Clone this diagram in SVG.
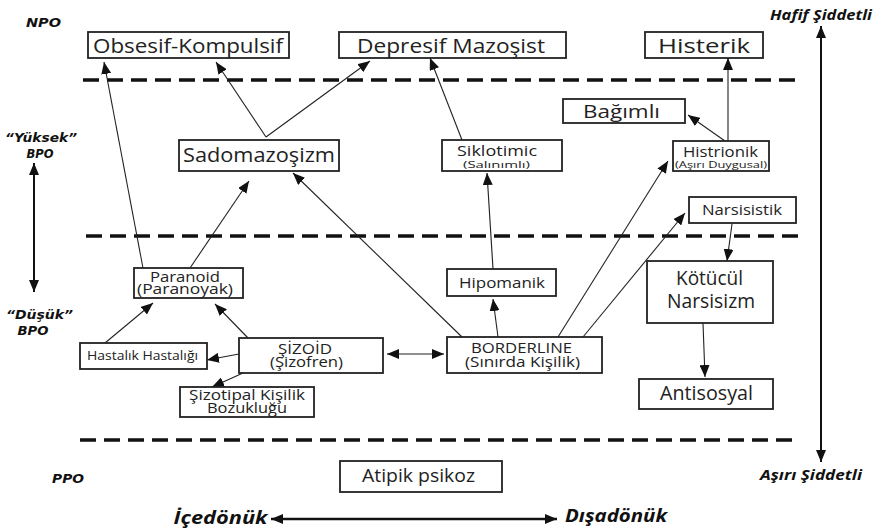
<svg xmlns="http://www.w3.org/2000/svg" width="874" height="531" viewBox="0 0 874 531">
<style>
.box{fill:#fff;stroke:#222;stroke-width:1.8}
.t{font-family:"Open Sans","Noto Sans",sans-serif;fill:#222;text-anchor:middle}
.lbl{font-family:"DejaVu Sans",Verdana,sans-serif;font-weight:bold;font-style:italic;fill:#111;text-anchor:middle}
.lbl2{font-family:"Open Sans","Noto Sans",sans-serif;font-weight:bold;font-style:italic;fill:#111;text-anchor:middle}
.dash{stroke:#111;stroke-width:3.5;stroke-dasharray:16 8;fill:none}
.ar{stroke:#222;stroke-width:1.1;fill:none;marker-end:url(#ah)}
.ar2{stroke:#222;stroke-width:1.1;fill:none;marker-end:url(#ah);marker-start:url(#ahs)}
.big{stroke:#111;stroke-width:2.4;fill:none;marker-end:url(#bh);marker-start:url(#bhs)}
</style>
<defs>
<marker id="ah" markerUnits="userSpaceOnUse" markerWidth="12" markerHeight="10" viewBox="0 0 12 10" refX="12" refY="5" orient="auto"><path d="M0,0 L12,5 L0,10 z" fill="#111"/></marker>
<marker id="ahs" markerUnits="userSpaceOnUse" markerWidth="12" markerHeight="10" viewBox="0 0 12 10" refX="0" refY="5" orient="auto"><path d="M12,0 L0,5 L12,10 z" fill="#111"/></marker>
<marker id="bh" markerUnits="userSpaceOnUse" markerWidth="12" markerHeight="10" viewBox="0 0 12 10" refX="12" refY="5" orient="auto"><path d="M0,0 L12,5 L0,10 z" fill="#111"/></marker>
<marker id="bhs" markerUnits="userSpaceOnUse" markerWidth="12" markerHeight="10" viewBox="0 0 12 10" refX="0" refY="5" orient="auto"><path d="M12,0 L0,5 L12,10 z" fill="#111"/></marker>
</defs>
<rect width="874" height="531" fill="#fff"/>

<g id="levels">
<line class="dash" x1="83" y1="80" x2="798" y2="80"/>
<line class="dash" x1="86" y1="236" x2="802" y2="236"/>
<line class="dash" x1="80" y1="440" x2="798" y2="440"/>
<text class="lbl" x="43.5" y="26.5" font-size="12.5" textLength="35" lengthAdjust="spacingAndGlyphs">NPO</text>
<text class="lbl" x="41" y="142" font-size="12.5" textLength="72" lengthAdjust="spacingAndGlyphs">“Yüksek”</text>
<text class="lbl" x="40" y="158" font-size="12.5" textLength="27" lengthAdjust="spacingAndGlyphs">BPO</text>
<text class="lbl" x="39.5" y="319" font-size="12.5" textLength="67" lengthAdjust="spacingAndGlyphs">“Düşük”</text>
<text class="lbl" x="33" y="335" font-size="12.5" textLength="31" lengthAdjust="spacingAndGlyphs">BPO</text>
<text class="lbl" x="68" y="483" font-size="12.5" textLength="32" lengthAdjust="spacingAndGlyphs">PPO</text>
<text class="lbl2" x="821" y="20" font-size="14" textLength="102" lengthAdjust="spacingAndGlyphs">Hafif Şiddetli</text>
<text class="lbl2" x="811" y="480" font-size="14" textLength="102" lengthAdjust="spacingAndGlyphs">Aşırı Şiddetli</text>
<text class="lbl2" x="220.5" y="524" font-size="17" textLength="94" lengthAdjust="spacingAndGlyphs">İçedönük</text>
<text class="lbl2" x="616" y="522" font-size="17" textLength="102" lengthAdjust="spacingAndGlyphs">Dışadönük</text>
</g>

<g id="axes">
<line class="big" x1="34" y1="163" x2="34" y2="292" style="stroke-width:2"/>
<line class="big" x1="821" y1="26" x2="821" y2="462" style="stroke-width:2"/>
<line class="big" x1="271" y1="519" x2="557" y2="519"/>
</g>

<g id="connectors">
<line class="ar" x1="143" y1="268" x2="104" y2="62"/>
<line class="ar" x1="266" y1="137" x2="216" y2="62"/>
<line class="ar" x1="266" y1="137" x2="370" y2="61"/>
<line class="ar" x1="462" y1="140" x2="430" y2="58"/>
<line class="ar" x1="728" y1="141" x2="728" y2="58"/>
<line class="ar" x1="725" y1="141" x2="688" y2="115"/>
<line class="ar" x1="190" y1="268" x2="249" y2="181"/>
<line class="ar" x1="462" y1="337" x2="293" y2="173"/>
<line class="ar" x1="493" y1="269" x2="487" y2="173"/>
<line class="ar" x1="498" y1="337" x2="493" y2="299"/>
<line class="ar" x1="558" y1="337" x2="668" y2="161"/>
<line class="ar" x1="583" y1="337" x2="685" y2="213"/>
<line class="ar" x1="732" y1="224" x2="727" y2="261"/>
<line class="ar" x1="703" y1="323" x2="705" y2="377"/>
<line class="ar" x1="248" y1="338" x2="215" y2="304"/>
<line class="ar" x1="105" y1="343" x2="153" y2="303"/>
<line class="ar" x1="239" y1="354" x2="207" y2="360"/>
<line class="ar" x1="243" y1="373" x2="212" y2="387"/>
<line class="ar2" x1="387" y1="354" x2="444" y2="354"/>
</g>

<g id="obsesif"><rect class="box" x="88" y="32" width="201" height="26"/><text class="t" x="188" y="52.5" font-size="20" textLength="190" lengthAdjust="spacingAndGlyphs">Obsesif-Kompulsif</text></g>
<g id="depresif"><rect class="box" x="339" y="32" width="227" height="26"/><text class="t" x="451" y="52.5" font-size="20" textLength="188" lengthAdjust="spacingAndGlyphs">Depresif Mazoşist</text></g>
<g id="histerik"><rect class="box" x="645" y="32" width="118" height="26"/><text class="t" x="704" y="52.5" font-size="20" textLength="92" lengthAdjust="spacingAndGlyphs">Histerik</text></g>
<g id="bagimli"><rect class="box" x="563" y="99" width="122" height="24"/><text class="t" x="621.5" y="118" font-size="19" textLength="77" lengthAdjust="spacingAndGlyphs">Bağımlı</text></g>
<g id="sadomazosizm"><rect class="box" x="179" y="140" width="160" height="31"/><text class="t" x="259" y="162" font-size="20" textLength="152" lengthAdjust="spacingAndGlyphs">Sadomazoşizm</text></g>
<g id="siklotimic"><rect class="box" x="442" y="140" width="120" height="31"/><text class="t" x="497" y="156" font-size="14" textLength="80" lengthAdjust="spacingAndGlyphs">Siklotimic</text><text class="t" x="496.5" y="167.5" font-size="9.5" textLength="67" lengthAdjust="spacingAndGlyphs">(Salınımlı)</text></g>
<g id="histrionik"><rect class="box" x="673" y="141" width="96" height="30"/><text class="t" x="720.5" y="157" font-size="14" textLength="75" lengthAdjust="spacingAndGlyphs">Histrionik</text><text class="t" x="721" y="167.5" font-size="9.5" textLength="92" lengthAdjust="spacingAndGlyphs">(Aşırı Duygusal)</text></g>
<g id="narsisistik"><rect class="box" x="689" y="197" width="107" height="26"/><text class="t" x="742" y="215" font-size="14" textLength="80" lengthAdjust="spacingAndGlyphs">Narsisistik</text></g>
<g id="paranoid"><rect class="box" x="134" y="268" width="109" height="30"/><text class="t" x="185" y="281.5" font-size="14" textLength="70" lengthAdjust="spacingAndGlyphs">Paranoid</text><text class="t" x="185" y="293.5" font-size="14" textLength="96" lengthAdjust="spacingAndGlyphs">(Paranoyak)</text></g>
<g id="hipomanik"><rect class="box" x="447" y="269" width="109" height="27"/><text class="t" x="502" y="288" font-size="15" textLength="86" lengthAdjust="spacingAndGlyphs">Hipomanik</text></g>
<g id="kotucul"><rect class="box" x="647" y="261" width="126" height="62"/><text class="t" x="709.5" y="285" font-size="20" textLength="67" lengthAdjust="spacingAndGlyphs">Kötücül</text><text class="t" x="711" y="308" font-size="20" textLength="88" lengthAdjust="spacingAndGlyphs">Narsisizm</text></g>
<g id="hastalik"><rect class="box" x="80" y="343" width="127" height="26"/><text class="t" x="142.5" y="360" font-size="12" textLength="111" lengthAdjust="spacingAndGlyphs">Hastalık Hastalığı</text></g>
<g id="sizoid"><rect class="box" x="239" y="338" width="144" height="35"/><text class="t" x="305" y="354" font-size="15" textLength="54" lengthAdjust="spacingAndGlyphs">ŞİZOİD</text><text class="t" x="306.5" y="367" font-size="15" textLength="73" lengthAdjust="spacingAndGlyphs">(Şizofren)</text></g>
<g id="borderline"><rect class="box" x="447" y="337" width="155" height="36"/><text class="t" x="521.5" y="353" font-size="15" textLength="101" lengthAdjust="spacingAndGlyphs">BORDERLINE</text><text class="t" x="522.5" y="367" font-size="15" textLength="115" lengthAdjust="spacingAndGlyphs">(Sınırda Kişilik)</text></g>
<g id="sizotipal"><rect class="box" x="180" y="387" width="134" height="30"/><text class="t" x="247" y="400" font-size="15" textLength="116" lengthAdjust="spacingAndGlyphs">Şizotipal Kişilik</text><text class="t" x="247" y="413" font-size="15" textLength="80" lengthAdjust="spacingAndGlyphs">Bozukluğu</text></g>
<g id="antisosyal"><rect class="box" x="639" y="379" width="134" height="30"/><text class="t" x="706.5" y="400" font-size="20" textLength="93" lengthAdjust="spacingAndGlyphs">Antisosyal</text></g>
<g id="atipik"><rect class="box" x="340" y="461" width="162" height="31"/><text class="t" x="418.5" y="482" font-size="19" textLength="113" lengthAdjust="spacingAndGlyphs">Atipik psikoz</text></g>
</svg>
